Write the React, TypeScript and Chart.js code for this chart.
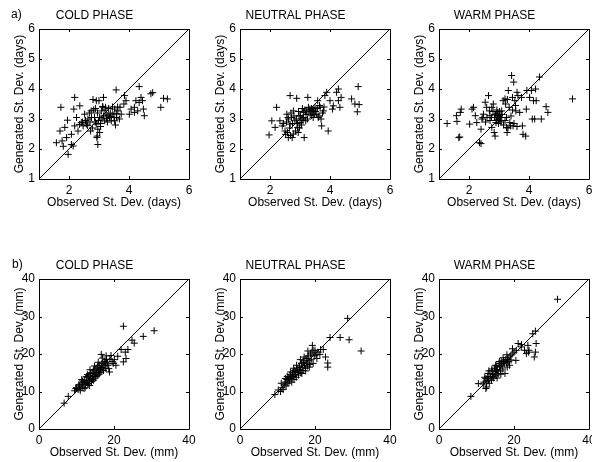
import React, { useEffect, useRef } from 'react';
import { Chart, registerables } from 'chart.js';

Chart.register(...registerables);

const FONT = 'Liberation Sans, Arial, Helvetica, sans-serif';

// ---------- tick labels ----------
const DAYS_Y_TICKS = [1, 2, 3, 4, 5, 6];
const DAYS_X_TICKS = [2, 4, 6];
const MM_Y_TICKS = [0, 10, 20, 30, 40];
const MM_X_TICKS = [0, 20, 40];
const DAYS_RANGE = [1, 6];
const MM_RANGE = [0, 40];

const PHASES = ['COLD PHASE', 'NEUTRAL PHASE', 'WARM PHASE'];
const ROW_LABELS = ['a)', 'b)'];
const X_TITLES = ['Observed St. Dev. (days)', 'Observed St. Dev. (mm)'];
const Y_TITLES = ['Generated St. Dev. (days)', 'Generated St. Dev. (mm)'];

// ---------- a) days, cold ----------
const coldDaysObs = [
  1.58, 1.77, 1.73, 1.70, 1.86, 1.81, 1.97, 1.95, 1.92, 2.08, 2.14, 2.19, 2.16, 2.08, 2.19, 2.30, 2.36, 2.25, 2.41, 2.52,
  2.47, 2.58, 2.63, 2.74, 2.80, 2.91, 3.00, 2.85, 2.91, 2.96, 3.02, 2.94, 2.96, 2.93, 3.02, 3.08, 3.15, 3.13, 3.22, 3.24,
  3.19, 3.30, 3.35, 3.41, 3.46, 3.52, 3.57, 3.52, 3.59, 3.63, 3.68, 3.74, 3.70, 3.85, 3.90, 3.83, 4.01, 4.07, 4.18, 4.23,
  4.18, 4.29, 4.34, 4.40, 4.34, 4.45, 4.51, 4.73, 4.79, 5.06, 5.15, 5.28, 4.48, 2.35, 2.45, 2.55, 2.62, 2.70, 2.75, 2.78,
  2.82, 2.88, 2.95, 3.05, 3.10, 3.15, 3.20, 3.28, 3.32, 3.38, 3.45, 3.50, 3.55, 3.62, 3.05, 2.98, 3.12, 2.68, 2.88, 3.25,
  3.40, 3.58, 2.72,
];
const coldDaysGen = [
  2.21, 2.27, 3.39, 2.60, 2.72, 2.09, 1.82, 2.96, 2.38, 2.15, 2.10, 3.72, 3.33, 2.49, 2.77, 2.60, 3.44, 3.05, 2.88, 3.16,
  2.77, 2.83, 3.00, 3.27, 3.65, 3.61, 3.61, 3.05, 2.83, 2.66, 2.55, 2.43, 2.15, 2.38, 3.05, 3.27, 3.72, 3.39, 3.39, 3.16,
  2.94, 3.11, 3.05, 2.94, 3.16, 3.33, 3.97, 2.94, 3.05, 3.27, 3.00, 3.16, 3.39, 3.78, 3.61, 3.50, 3.16, 3.33, 3.39, 3.61,
  3.22, 3.27, 3.55, 3.72, 4.08, 3.61, 3.11, 3.84, 3.88, 3.39, 3.69, 3.67, 3.33, 2.82, 2.90, 2.95, 2.78, 2.90, 3.05, 2.70,
  3.30, 2.90, 3.20, 2.85, 3.00, 3.10, 3.30, 2.90, 3.35, 3.20, 3.40, 3.05, 2.80, 3.40, 2.75, 2.95, 3.42, 3.20, 3.35, 3.02,
  3.08, 3.18, 2.60,
];

// ---------- a) days, neutral ----------
const neutralDaysObs = [
  1.97, 2.06, 2.17, 2.22, 2.33, 2.41, 2.50, 2.52, 2.56, 2.61, 2.67, 2.72, 2.74, 2.67, 2.78, 2.83, 2.89, 2.92, 2.94, 2.97,
  3.06, 3.11, 3.14, 3.00, 3.19, 3.26, 3.22, 3.28, 3.33, 3.39, 3.41, 3.44, 3.50, 3.56, 3.59, 3.61, 3.67, 3.70, 3.72, 3.78,
  3.83, 3.89, 3.94, 4.00, 4.08, 4.11, 4.22, 4.28, 4.28, 4.33, 4.37, 4.72, 4.94, 4.97, 4.91, 4.83, 2.45, 2.55, 2.60, 2.65,
  2.70, 2.75, 2.80, 2.85, 2.88, 2.90, 2.95, 3.02, 3.05, 3.08, 3.12, 3.16, 3.20, 3.25, 3.30, 3.35, 3.38, 3.45, 3.48, 3.52,
  3.58, 3.63, 2.58, 2.68, 2.78, 2.62, 3.65, 3.75, 3.80, 3.10, 2.98,
];
const neutralDaysGen = [
  2.47, 2.94, 2.72, 3.39, 2.94, 2.77, 2.60, 2.49, 3.16, 2.38, 3.78, 3.05, 2.38, 2.83, 3.27, 2.94, 3.69, 2.72, 2.55, 3.11,
  3.00, 3.22, 2.38, 2.88, 2.94, 3.72, 3.27, 3.39, 3.33, 3.11, 3.27, 3.05, 3.39, 3.16, 3.61, 3.05, 3.39, 3.00, 2.77, 3.27,
  3.78, 3.89, 2.60, 3.61, 3.33, 3.44, 3.89, 4.00, 3.61, 3.39, 3.72, 3.67, 4.08, 3.48, 3.24, 3.50, 2.85, 2.90, 3.05, 2.70,
  3.20, 2.85, 3.10, 2.60, 3.00, 2.85, 3.25, 3.10, 2.80, 3.35, 3.05, 3.30, 3.15, 3.00, 3.25, 3.20, 3.35, 3.30, 3.15, 3.25,
  3.35, 3.10, 2.55, 2.45, 2.50, 3.00, 3.45, 3.20, 3.40, 2.95, 2.70,
];

// ---------- a) days, warm ----------
const warmDaysObs = [
  1.27, 1.58, 1.60, 1.71, 1.74, 1.66, 1.69, 2.02, 2.10, 2.15, 2.21, 2.26, 2.35, 2.40, 2.40, 2.43, 2.46, 2.48, 2.54, 2.59,
  2.65, 2.68, 2.70, 2.76, 2.81, 2.76, 2.84, 2.87, 2.90, 2.95, 2.98, 3.01, 3.03, 2.90, 3.09, 3.14, 3.20, 3.25, 3.27, 3.31,
  3.34, 3.36, 3.38, 3.42, 3.49, 3.45, 3.47, 3.53, 3.56, 3.60, 3.63, 3.69, 3.75, 3.78, 3.80, 3.89, 3.91, 3.93, 4.02, 4.08,
  4.11, 4.15, 4.19, 4.22, 4.35, 4.41, 4.57, 4.63, 5.45, 4.24, 2.85, 2.88, 2.92, 2.95, 2.97, 3.00, 3.02, 3.05, 3.07, 2.93,
  2.98, 3.10, 2.80, 2.75, 2.70, 3.15, 3.20, 3.22, 3.28, 3.40, 3.45, 3.50, 3.55, 3.60, 3.30, 3.25, 2.60, 2.55,
];
const warmDaysGen = [
  2.85, 3.11, 2.92, 3.22, 3.33, 2.38, 2.40, 2.83, 3.33, 3.39, 3.11, 2.88, 2.21, 2.18, 2.66, 3.00, 3.05, 3.16, 3.56, 3.39,
  3.78, 3.27, 3.11, 3.39, 3.50, 2.72, 2.55, 2.43, 3.16, 3.05, 3.00, 3.11, 2.94, 2.88, 3.27, 3.61, 3.67, 2.72, 2.55, 3.95,
  3.39, 2.88, 2.77, 4.45, 4.23, 3.72, 2.77, 3.61, 3.27, 3.89, 3.78, 3.22, 3.72, 2.77, 2.49, 2.43, 3.33, 3.95, 3.72, 3.95,
  3.00, 3.61, 3.00, 4.00, 4.40, 3.00, 3.41, 3.22, 3.67, 3.61, 3.05, 3.15, 2.95, 3.20, 3.10, 3.00, 3.25, 3.05, 2.90, 3.30,
  2.85, 3.15, 3.25, 3.05, 2.95, 2.80, 2.95, 3.50, 3.65, 3.10, 3.30, 2.85, 3.45, 2.75, 2.70, 3.05, 3.05, 2.90,
];

// ---------- b) mm, cold ----------
const coldMmObs = [
  6.7, 7.8, 9.5, 10.0, 10.4, 10.8, 11.0, 11.2, 11.5, 11.8, 12.0, 12.2, 12.4, 12.6, 12.8, 13.0, 13.2, 13.4, 13.5, 13.7,
  13.9, 14.0, 14.2, 14.4, 14.5, 14.7, 14.9, 15.0, 15.2, 15.4, 15.5, 15.7, 15.9, 16.0, 16.2, 16.4, 16.5, 16.6, 16.8, 17.0,
  17.2, 17.4, 17.6, 17.8, 18.0, 18.2, 18.6, 18.8, 19.2, 19.5, 20.1, 21.0, 21.9, 22.5, 23.2, 23.0, 23.7, 24.8, 25.4, 27.8,
  30.7, 22.5, 11.6, 12.9, 13.6, 14.8, 15.8, 16.9, 17.9, 12.3, 13.1, 14.3, 15.1, 16.1, 17.1, 18.4, 19.8, 20.5, 9.8, 10.6,
  11.4, 12.7, 14.6, 15.6, 16.7, 17.7, 18.9,
];
const coldMmGen = [
  6.9, 8.7, 10.2, 11.0, 10.5, 11.5, 10.2, 12.0, 11.2, 12.5, 10.8, 13.0, 11.8, 12.5, 13.8, 12.2, 14.2, 13.0, 11.6, 14.8,
  13.5, 12.6, 15.0, 14.0, 13.0, 15.5, 14.4, 13.6, 16.2, 15.0, 14.2, 16.8, 15.5, 14.6, 17.0, 16.0, 15.2, 19.9, 17.5, 16.5,
  15.6, 18.0, 17.0, 16.2, 18.5, 17.4, 16.1, 15.2, 19.6, 18.0, 18.5, 19.4, 21.2, 17.9, 18.8, 20.5, 21.2, 23.7, 22.9, 24.7,
  26.2, 27.4, 12.8, 14.5, 15.8, 16.8, 17.8, 18.9, 19.5, 11.0, 12.0, 13.2, 14.0, 15.0, 16.0, 17.0, 17.5, 17.0, 10.8, 11.8,
  13.2, 14.0, 15.8, 16.5, 16.4, 17.8, 18.6,
];

// ---------- b) mm, neutral ----------
const neutralMmObs = [
  9.3, 10.2, 10.8, 11.2, 11.5, 11.8, 12.0, 12.3, 12.5, 12.8, 13.0, 13.2, 13.4, 13.6, 13.8, 14.0, 14.2, 14.4, 14.6, 14.8,
  15.0, 15.2, 15.4, 15.6, 15.8, 16.0, 16.2, 16.4, 16.6, 16.8, 17.0, 17.2, 17.4, 17.6, 17.8, 18.0, 18.2, 18.4, 18.6, 18.8,
  19.0, 19.3, 19.5, 19.8, 20.0, 20.3, 20.5, 21.3, 22.2, 22.8, 23.4, 23.4, 24.0, 26.7, 28.7, 29.1, 32.3, 12.6, 13.5, 14.3,
  15.1, 16.1, 17.1, 18.1, 19.2, 13.9, 14.9, 15.9, 16.9, 17.9, 16.5, 17.5, 18.5, 19.5, 11.0, 12.1, 20.8, 21.5,
];
const neutralMmGen = [
  9.2, 10.4, 10.0, 11.0, 10.5, 11.8, 12.5, 11.5, 13.2, 12.2, 13.8, 12.8, 14.5, 13.5, 12.5, 15.0, 14.0, 13.2, 15.6, 14.5,
  13.8, 16.0, 15.2, 14.4, 16.8, 15.8, 15.0, 17.5, 16.5, 15.6, 18.2, 17.0, 16.2, 18.8, 17.6, 16.8, 19.5, 18.2, 17.2, 20.0,
  18.6, 22.3, 21.0, 19.5, 21.0, 19.8, 18.8, 19.9, 21.2, 19.2, 17.6, 16.5, 24.4, 24.4, 29.5, 23.8, 20.8, 14.0, 15.2, 16.2,
  17.0, 18.5, 19.2, 20.8, 20.5, 14.2, 15.4, 16.4, 17.8, 18.8, 14.8, 15.5, 16.5, 17.5, 12.2, 13.5, 20.5, 21.2,
];

// ---------- b) mm, warm ----------
const warmMmObs = [
  8.5, 10.5, 12.7, 12.0, 12.5, 12.8, 13.0, 13.2, 13.4, 13.6, 13.8, 14.0, 14.2, 14.4, 14.6, 14.8, 15.0, 15.2, 15.4, 15.6,
  15.8, 16.0, 16.2, 16.4, 16.6, 16.8, 17.0, 17.2, 17.4, 17.6, 17.8, 18.0, 18.2, 18.4, 18.6, 18.8, 19.0, 19.2, 19.6, 20.5,
  20.6, 21.1, 21.9, 22.8, 23.3, 23.7, 23.9, 25.0, 25.7, 25.9, 25.4, 25.7, 31.6, 13.1, 14.1, 15.1, 16.1, 17.1, 18.1, 15.5,
  16.5, 12.2, 13.3, 14.3, 15.3, 16.3, 17.3, 18.3, 19.5, 20.0, 22.0, 24.0, 12.5, 11.8,
];
const warmMmGen = [
  8.7, 12.1, 11.2, 12.5, 13.5, 12.8, 14.0, 13.0, 12.2, 14.8, 13.8, 13.0, 15.5, 14.5, 13.6, 16.2, 15.2, 14.2, 16.8, 15.8,
  14.8, 17.5, 16.5, 15.5, 18.0, 17.0, 16.0, 18.2, 17.4, 14.8, 18.5, 17.6, 16.5, 19.0, 18.0, 17.0, 19.5, 18.4, 21.4, 18.3,
  21.0, 22.8, 21.9, 21.0, 20.1, 22.3, 20.5, 25.4, 26.1, 22.8, 19.2, 20.5, 34.6, 14.8, 16.0, 17.0, 18.0, 19.0, 19.8, 13.6,
  14.6, 13.8, 15.5, 14.0, 15.5, 16.8, 17.8, 18.5, 20.0, 20.5, 22.5, 21.0, 10.8, 12.0,
];

// ---------- layout ----------
const PLOT_LEFTS = [39, 240, 439];
const PLOT_TOPS = [29, 279];
const PLOT_SIZE = 150;
const MARGIN_L = 39;
const MARGIN_T = 29;
const MARGIN_R = 11;
const MARGIN_B = 33;

const boxPlugin = {
  id: 'matlabBox',
  afterDatasetsDraw(chart: any) {
    const { ctx, chartArea } = chart;
    const { left, top, right, bottom } = chartArea;
    const xs = chart.scales.x;
    const ys = chart.scales.y;
    const tl = 3;
    ctx.save();
    ctx.strokeStyle = '#000';
    ctx.lineWidth = 1;
    ctx.beginPath();
    ctx.rect(Math.round(left) + 0.5, Math.round(top) + 0.5, Math.round(right - left), Math.round(bottom - top));
    for (const t of xs.ticks) {
      const px = Math.round(xs.getPixelForValue(t.value)) + 0.5;
      ctx.moveTo(px, bottom);
      ctx.lineTo(px, bottom - tl);
      ctx.moveTo(px, top);
      ctx.lineTo(px, top + tl);
    }
    for (const t of ys.ticks) {
      const py = Math.round(ys.getPixelForValue(t.value)) + 0.5;
      ctx.moveTo(left, py);
      ctx.lineTo(left + tl, py);
      ctx.moveTo(right, py);
      ctx.lineTo(right - tl, py);
    }
    ctx.stroke();
    ctx.restore();
  },
};

type PanelProps = {
  col: number;
  row: number;
  obs: number[];
  gen: number[];
  range: number[];
  xTicks: number[];
  yTicks: number[];
};

function Panel({ col, row, obs, gen, range, xTicks, yTicks }: PanelProps) {
  const ref = useRef<HTMLCanvasElement>(null);
  const width = MARGIN_L + PLOT_SIZE + MARGIN_R;
  const height = MARGIN_T + PLOT_SIZE + MARGIN_B;

  useEffect(() => {
    if (!ref.current) return;
    const points = obs.map((x, i) => ({ x, y: gen[i] }));
    const font = { family: FONT, size: 12 };
    const chart = new Chart(ref.current, {
      type: 'scatter',
      data: {
        datasets: [
          {
            data: points,
            pointStyle: 'cross',
            pointRadius: 3.5,
            pointBorderWidth: 1,
            borderColor: '#000',
            backgroundColor: '#000',
          },
          {
            data: [
              { x: range[0], y: range[0] },
              { x: range[1], y: range[1] },
            ],
            showLine: true,
            pointRadius: 0,
            borderColor: '#000',
            borderWidth: 1,
          },
        ],
      },
      options: {
        animation: false,
        responsive: false,
        devicePixelRatio: 1,
        layout: { padding: { left: 0, top: 0, right: MARGIN_R, bottom: 0 } },
        plugins: {
          legend: { display: false },
          tooltip: { enabled: false },
          title: {
            display: true,
            text: PHASES[col],
            color: '#000',
            font: { family: FONT, size: 12, weight: 'normal' },
            padding: { top: 8, bottom: MARGIN_T - 8 - 14.4 },
          },
        },
        scales: {
          x: {
            type: 'linear',
            min: range[0],
            max: range[1],
            afterBuildTicks: (s: any) => {
              s.ticks = xTicks.map((v) => ({ value: v }));
            },
            afterFit: (s: any) => {
              s.height = MARGIN_B;
            },
            grid: { display: false, drawTicks: false },
            border: { display: false },
            ticks: { color: '#000', font, padding: 4, maxRotation: 0, autoSkip: false },
            title: {
              display: true,
              text: X_TITLES[row],
              color: '#000',
              font,
              padding: { top: 0, bottom: 2 },
            },
          },
          y: {
            type: 'linear',
            min: range[0],
            max: range[1],
            afterBuildTicks: (s: any) => {
              s.ticks = yTicks.map((v) => ({ value: v }));
            },
            afterFit: (s: any) => {
              s.width = MARGIN_L;
            },
            grid: { display: false, drawTicks: false },
            border: { display: false },
            ticks: { color: '#000', font, padding: 4, autoSkip: false },
            title: {
              display: true,
              text: Y_TITLES[row],
              color: '#000',
              font,
              padding: { top: 12, bottom: 0 },
            },
          },
        },
      },
      plugins: [boxPlugin],
    } as any);
    return () => chart.destroy();
  }, []);

  return (
    <canvas
      ref={ref}
      width={width}
      height={height}
      style={{
        position: 'absolute',
        left: PLOT_LEFTS[col] - MARGIN_L,
        top: PLOT_TOPS[row] - MARGIN_T,
        width,
        height,
      }}
    />
  );
}

export default function App() {
  const daysObs = [coldDaysObs, neutralDaysObs, warmDaysObs];
  const daysGen = [coldDaysGen, neutralDaysGen, warmDaysGen];
  const mmObs = [coldMmObs, neutralMmObs, warmMmObs];
  const mmGen = [coldMmGen, neutralMmGen, warmMmGen];
  return (
    <div
      style={{
        position: 'fixed',
        left: 0,
        top: 0,
        width: 592,
        height: 462,
        overflow: 'hidden',
        background: '#fff',
        fontFamily: FONT,
      }}
    >
      {[0, 1, 2].map((c) => (
        <Panel
          key={'a' + c}
          col={c}
          row={0}
          obs={daysObs[c]}
          gen={daysGen[c]}
          range={DAYS_RANGE}
          xTicks={DAYS_X_TICKS}
          yTicks={DAYS_Y_TICKS}
        />
      ))}
      {[0, 1, 2].map((c) => (
        <Panel
          key={'b' + c}
          col={c}
          row={1}
          obs={mmObs[c]}
          gen={mmGen[c]}
          range={MM_RANGE}
          xTicks={MM_X_TICKS}
          yTicks={MM_Y_TICKS}
        />
      ))}
      <div style={{ position: 'absolute', left: 11, top: 7, fontSize: 12, lineHeight: '14px', color: '#000' }}>
        {ROW_LABELS[0]}
      </div>
      <div style={{ position: 'absolute', left: 12, top: 257, fontSize: 12, lineHeight: '14px', color: '#000' }}>
        {ROW_LABELS[1]}
      </div>
    </div>
  );
}
